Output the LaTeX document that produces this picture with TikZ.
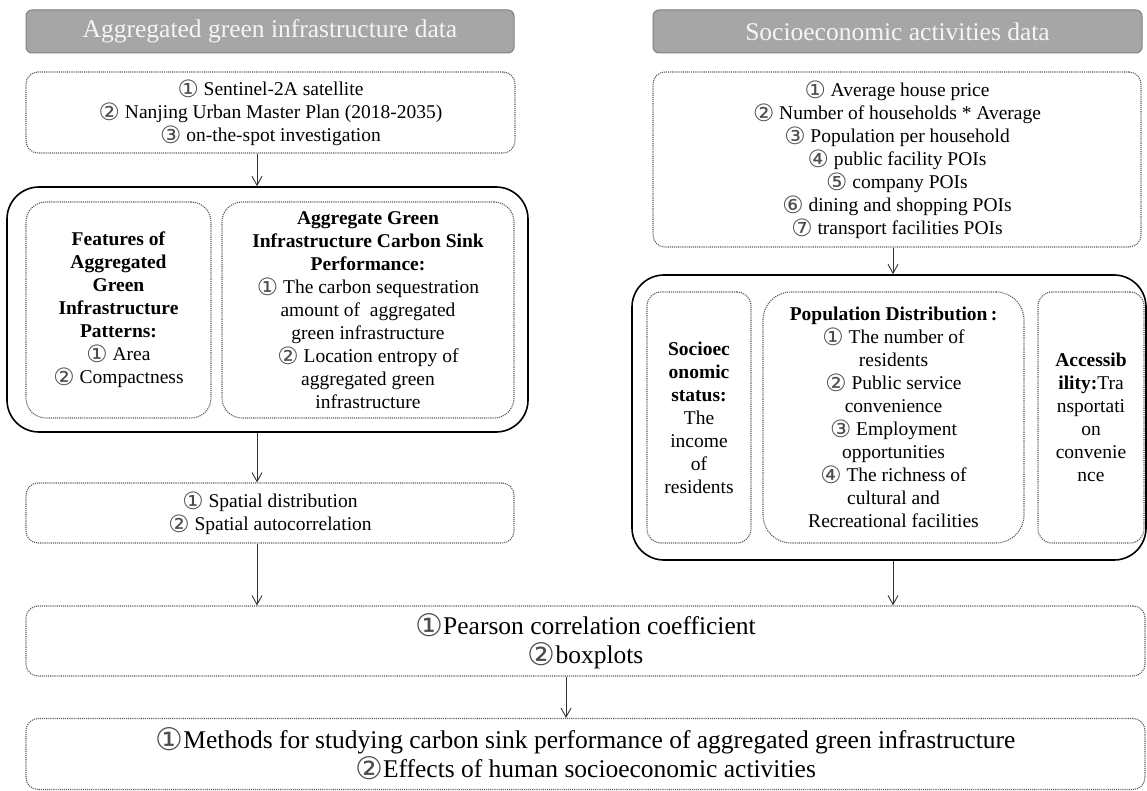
\documentclass[tikz,border=0pt]{standalone}
\usepackage{fontspec}
\usepackage{graphicx}
\setmainfont{Liberation Serif}
\newfontfamily\circfont{DejaVu Sans}
\usetikzlibrary{arrows.meta}
\newcommand\cnum[1]{\raisebox{-0.09em}{\scalebox{1.22}{\circfont\color{black!70}#1}}}
\begin{document}
\begin{tikzpicture}[x=1pt,y=-1pt,
  hdr/.style={draw=black!50, fill=black!35, rounded corners=6pt, line width=1pt,
    text=white!96!black, font=\fontsize{25.5}{29}\selectfont, inner sep=0pt},
  dbox/.style={draw=black!65, densely dotted, line width=1.1pt, rounded corners=12pt,
    align=center, inner sep=0pt, font=\fontsize{19.5}{23}\selectfont},
  sbox/.style={draw=black, line width=1.6pt, rounded corners=32pt, inner sep=0pt},
  bigtext/.style={font=\fontsize{25.5}{29}\selectfont},
  arr/.style={-{Straight Barb[length=9pt,width=10pt]}, line width=0.9pt, draw=black!80}]
\useasboundingbox (0,0) rectangle (1147,791);

% headers
\node[hdr, minimum width=488pt, minimum height=43pt] (hdrL) at (270,31.5) {Aggregated green infrastructure data};
\node[hdr, minimum width=489pt, minimum height=43pt] (hdrR) at (897.5,31.5) {Socioeconomic activities data};

% left column
\node[dbox, minimum width=489pt, minimum height=81pt] (srcL) at (270.5,112.5)
  {\cnum{①} Sentinel-2A satellite\\\cnum{②} Nanjing Urban Master Plan (2018-2035)\\\cnum{③} on-the-spot investigation};
\node[sbox, minimum width=521pt, minimum height=245pt] (bigL) at (267.5,309.5) {};
\node[dbox, rounded corners=20pt, minimum width=185pt, minimum height=216pt] (featL) at (118.5,310)
  {\textbf{Features of}\\\textbf{Aggregated}\\\textbf{Green}\\\textbf{Infrastructure}\\\textbf{Patterns:}\\\cnum{①} Area\\\cnum{②} Compactness};
\node[dbox, rounded corners=20pt, minimum width=292pt, minimum height=216pt] (carbL) at (368,310)
  {\textbf{Aggregate Green}\\\textbf{Infrastructure Carbon Sink}\\\textbf{Performance:}\\\cnum{①} The carbon sequestration\\amount of\ \ aggregated\\green infrastructure\\\cnum{②} Location entropy of\\aggregated green\\infrastructure};
\node[dbox, minimum width=488pt, minimum height=60pt] (spatL) at (270,513)
  {\cnum{①} Spatial distribution\\\cnum{②} Spatial autocorrelation};

% right column
\node[dbox, minimum width=488pt, minimum height=175pt] (srcR) at (897,159.5)
  {\cnum{①} Average house price\\\cnum{②} Number of households * Average\\\cnum{③} Population per household\\\cnum{④} public facility POIs\\\cnum{⑤} company POIs\\\cnum{⑥} dining and shopping POIs\\\cnum{⑦} transport facilities POIs};
\node[sbox, minimum width=514pt, minimum height=285pt] (bigR) at (889,417.5) {};
\node[dbox, rounded corners=14pt, minimum width=104pt, minimum height=251pt] (socR) at (699,417.5)
  {\textbf{Socioec}\\\textbf{onomic}\\\textbf{status:}\\The\\income\\of\\residents};
\node[dbox, rounded corners=28pt, minimum width=261pt, minimum height=251pt] (popR) at (893.5,417.5)
  {\textbf{Population Distribution\,:}\\\cnum{①} The number of\\residents\\\cnum{②} Public service\\convenience\\\cnum{③} Employment\\opportunities\\\cnum{④} The richness of\\cultural and\\Recreational facilities};
\node[dbox, rounded corners=14pt, minimum width=106pt, minimum height=251pt] (accR) at (1091,417.5)
  {\textbf{Accessib}\\\textbf{ility:}Tra\\nsportati\\on\\convenie\\nce};

% bottom
\node[dbox, bigtext, minimum width=1119pt, minimum height=70pt] (pear) at (585.5,641)
  {\cnum{①}Pearson correlation coefficient\\\cnum{②}boxplots};
\node[dbox, bigtext, minimum width=1119pt, minimum height=71pt] (meth) at (585.5,754)
  {\cnum{①}Methods for studying carbon sink performance of aggregated green infrastructure\\\cnum{②}Effects of human socioeconomic activities};

% connectors
\coordinate (cL) at (257,0);
\coordinate (cR) at (893,0);
\coordinate (cM) at (566,0);
\draw[arr] (srcL.south -| cL) -- (bigL.north -| cL);
\draw[arr] (bigL.south -| cL) -- (spatL.north -| cL);
\draw[arr] (spatL.south -| cL) -- (pear.north -| cL);
\draw[arr] (srcR.south -| cR) -- (bigR.north -| cR);
\draw[arr] (bigR.south -| cR) -- (pear.north -| cR);
\draw[arr] (pear.south -| cM) -- (meth.north -| cM);
\end{tikzpicture}
\end{document}
